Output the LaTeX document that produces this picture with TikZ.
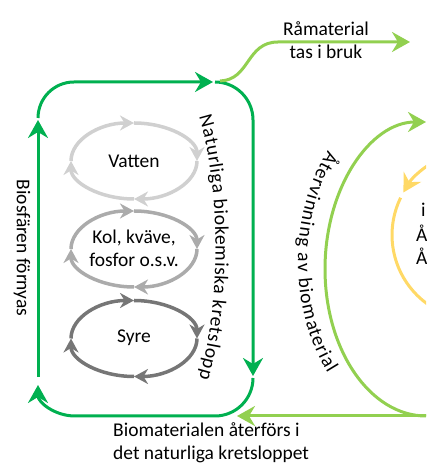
\documentclass[tikz,border=0pt]{standalone}
\usepackage{fontspec}
\setmainfont{Carlito}
\usetikzlibrary{arrows.meta,decorations.text}
\definecolor{dgreen}{HTML}{00B050}
\definecolor{lgreen}{HTML}{92D050}
\definecolor{yel}{HTML}{FFD966}
\definecolor{gA}{HTML}{D0D0D0}
\definecolor{gB}{HTML}{ABABAB}
\definecolor{gC}{HTML}{767676}
\begin{document}
\begin{tikzpicture}[x=1pt,y=1pt,
  lbl/.style={font=\fontsize{19.5}{23}\selectfont, inner sep=0pt},
  garr/.style={line width=3pt, -{Stealth[length=18pt,width=20pt,inset=6pt]}},
  gline/.style={line width=3pt},
  cyc/.style={line width=3.5pt, -{Stealth[length=14pt,width=15pt,inset=4.5pt]}},
]
\useasboundingbox (0,0) rectangle (426,470);
\clip (0,0) rectangle (426,470);

% dark green frame
\draw[garr,dgreen] (38,352) arc[start angle=180,end angle=90,radius=36] -- (213,388);
\draw[garr,dgreen] (215,388) arc[start angle=90,end angle=0,radius=38] -- (253,94);
\draw[garr,dgreen] (253,92) arc[start angle=0,end angle=-90,radius=38] -- (75,54)
   arc[start angle=270,end angle=180,x radius=37,y radius=31];
\draw[garr,dgreen] (38,93) -- (38,350);

% light green
\draw[garr,lgreen] (220,389) .. controls (250,390) and (246,428) .. (278,428) -- (410,428);
\draw[garr,lgreen] (440,54) -- (237,54);
\draw[garr,lgreen] (426,54) arc[start angle=-90,end angle=-270,x radius=101,y radius=147];

% yellow
\draw[garr,yel] (477,235) ++(115:85) arc[start angle=115,end angle=150,radius=85];
\draw[gline,yel] (477,235) ++(154:85) arc[start angle=154,end angle=245,radius=85];

% gray cycles
\foreach \cy/\col in {309/gA, 221/gB, 131.5/gC}{
  \foreach \a in {180,90,0,-90}{
    \draw[cyc,\col] (134,\cy) ++(\a:63 and 38) arc[start angle=\a,end angle=\a-90,x radius=63,y radius=38];
  }
}

% texts
\node[lbl,align=center] (rm) at (326,430) {Råmaterial\\tas i bruk};
\node[lbl,align=left,anchor=west] (bm) at (113,27) {Biomaterialen återförs i\\det naturliga kretsloppet};
\node[lbl] (va) at (134,309) {Vatten};
\node[lbl,align=center] (kol) at (134,222) {Kol, kväve,\\fosfor o.s.v.};
\node[lbl] (sy) at (134,132) {Syre};
\node[lbl,rotate=-90] (bio) at (22,222) {Biosfären förnyas};
\node[lbl,anchor=west] (r1) at (421,260) {i};
\node[lbl,anchor=west] (r2) at (416,237) {Å};
\node[lbl,anchor=west] (r3) at (416,214) {Å};

\path[decorate,decoration={text along path,text align=fit to path,
  text={|\fontsize{19.5}{23}\selectfont|Naturliga biokemiska kretslopp}}]
  (199,353) .. controls (221,280) and (221,165) .. (199,92);
\path[decorate,decoration={text along path,text align=fit to path,
  text={|\fontsize{19.5}{23}\selectfont|Återvinning av biomaterial}}]
  (420,208) ++(139:122 and 170) arc[start angle=139,end angle=221,x radius=122,y radius=170];
\end{tikzpicture}
\end{document}
